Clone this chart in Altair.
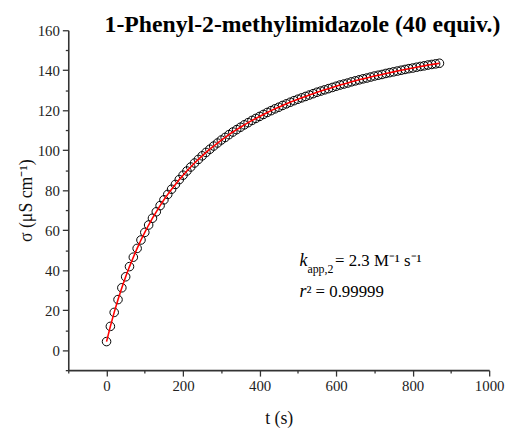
import altair as alt
import pandas as pd

# time (s), sampled every 10 s from 0 to 870 s
t_s = list(range(0, 880, 10))
# conductivity sigma (uS cm^-1)
sigma = [4.3, 11.9, 18.9, 25.3, 31.2, 36.7, 41.8, 46.5, 50.9, 55.1,
         58.9, 62.6, 66.0, 69.2, 72.3, 75.2, 77.9, 80.5, 82.9, 85.3,
         87.5, 89.6, 91.6, 93.6, 95.4, 97.2, 98.9, 100.5, 102.1, 103.6,
         105.1, 106.4, 107.8, 109.1, 110.3, 111.5, 112.7, 113.8, 114.9, 115.9,
         116.9, 117.9, 118.9, 119.8, 120.7, 121.5, 122.4, 123.2, 124.0, 124.8,
         125.5, 126.2, 126.9, 127.6, 128.3, 129.0, 129.6, 130.2, 130.8, 131.4,
         132.0, 132.6, 133.1, 133.6, 134.2, 134.7, 135.2, 135.7, 136.1, 136.6,
         137.1, 137.5, 137.9, 138.4, 138.8, 139.2, 139.6, 140.0, 140.4, 140.8,
         141.1, 141.5, 141.9, 142.2, 142.6, 142.9, 143.2, 143.5]
# fitted curve (passes through the data)
sigma_fit = list(sigma)

x_major = [0, 200, 400, 600, 800, 1000]
x_minor = [-100, 100, 300, 500, 700, 900]
y_major = [0, 20, 40, 60, 80, 100, 120, 140, 160]
y_minor = [-10, 10, 30, 50, 70, 90, 110, 130, 150]

title_text = "1-Phenyl-2-methylimidazole (40 equiv.)"

df = pd.DataFrame({"t": t_s, "sigma": sigma, "fit": sigma_fit})

FONT = "Liberation Serif"
AX = "#333333"

x_scale = alt.Scale(domain=[-100, 1000], nice=False, zero=False)
y_scale = alt.Scale(domain=[-10, 160], nice=False, zero=False)

common = dict(
    labelFont=FONT, labelFontSize=15, labelColor="#222", labelPadding=3,
    labelFlush=False, labelOverlap=False, format="d",
    domainColor=AX, domainWidth=1.6, tickColor=AX, tickWidth=1.3,
    grid=False,
)

x_main = alt.X(
    "t:Q", scale=x_scale,
    axis=alt.Axis(
        values=x_major, orient="bottom", tickSize=6,
        title="t (s)",
        titleX=213, titleY=54, titleAlign="center", titleBaseline="alphabetic",
        titleFont=FONT, titleFontSize=18, titleFontWeight="normal", titleColor="#111",
        **common,
    ),
)
y_main = alt.Y(
    "sigma:Q", scale=y_scale,
    axis=alt.Axis(
        values=y_major, orient="left", tickSize=6,
        title="σ (μS cm⁻¹)",
        titleX=-37, titleY=172, titleAngle=-90, titleAlign="center", titleBaseline="alphabetic",
        titleFont=FONT, titleFontSize=18, titleFontWeight="normal", titleColor="#111",
        **common,
    ),
)

x_min = alt.X(
    "t:Q", scale=x_scale,
    axis=alt.Axis(values=x_minor, orient="bottom", tickSize=3, labels=False,
                  domain=False, title=None, tickColor=AX, tickWidth=1.3, grid=False),
)
y_min = alt.Y(
    "fit:Q", scale=y_scale,
    axis=alt.Axis(values=y_minor, orient="left", tickSize=3, labels=False,
                  domain=False, title=None, tickColor=AX, tickWidth=1.3, grid=False),
)

points = alt.Chart(df).mark_point(
    shape="circle", filled=False, size=75, stroke="black", strokeWidth=1, opacity=1
).encode(x=x_main, y=y_main)

fit_line = alt.Chart(df).mark_line(color="#ff0000", strokeWidth=1.6).encode(
    x=x_min, y=y_min
)

one = alt.Data(values=[{}])


def label(txt, px, py, size=17, style="normal", weight="normal", align="left"):
    return alt.Chart(one).mark_text(
        font=FONT, fontSize=size, fontStyle=style, fontWeight=weight,
        align=align, baseline="alphabetic", color="black"
    ).encode(x=alt.value(px), y=alt.value(py), text=alt.value(txt))


texts = [
    label(title_text, 237, 2, size=24, weight="bold", align="center"),
    label("k", 234, 239, size=18, style="italic"),
    label("app,2", 242, 246, size=12),
    label("= 2.3 M⁻¹ s⁻¹", 270, 239, size=17),
    label("r", 234, 270, size=18, style="italic"),
    label("² = 0.99999", 241, 270, size=17),
]

chart = alt.layer(points, fit_line, *texts).resolve_axis(
    x="independent", y="independent"
).properties(
    width=426, height=344,
    padding={"left": 61, "top": 20, "right": 16, "bottom": 56},
    autosize=alt.AutoSizeParams(type="none"),
).configure_view(stroke=None)

chart.save("out.html", embed_options={"renderer": "svg", "actions": False})
